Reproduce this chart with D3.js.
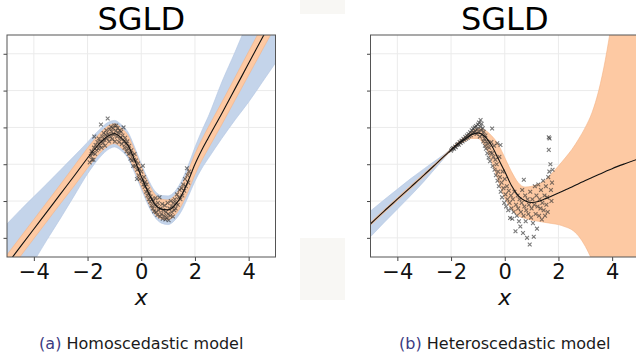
<!DOCTYPE html>
<html>
<head>
<meta charset="utf-8">
<script src="https://cdn.jsdelivr.net/npm/d3@7"></script>
<style>
  html, body { margin: 0; padding: 0; background: #fff; }
  svg { display: block; }
  text { font-family: "DejaVu Sans", sans-serif; }
</style>
</head>
<body>
<svg id="fig" width="636" height="352"></svg>
<script>
// ---- shared axis settings ----
const xTicks = [-4, -2, 0, 2, 4];
const yTicks = [-2, -1, 0, 1, 2, 3];
const xDomain = [-5, 5];
const yDomain = [-2.52, 3.51];

// ---- homoscedastic model (SGLD) ----
const homGrid = [-5, -4.5, -4, -3.5, -3, -2.5, -2, -1.75, -1.5, -1.25, -1, -0.75, -0.5, -0.25, 0, 0.25, 0.5, 0.75, 1, 1.25, 1.5, 1.75, 2, 2.25, 2.5, 3, 3.5, 4, 4.5, 5];
const homMean = [-2.72, -2.24, -1.76, -1.28, -0.80, -0.32, 0.17, 0.40, 0.60, 0.76, 0.83, 0.72, 0.52, 0.12, -0.33, -0.75, -1.08, -1.22, -1.24, -1.12, -0.85, -0.45, 0.0, 0.38, 0.72, 1.38, 2.06, 2.74, 3.42, 4.10];
const homAleaLo = [-2.98, -2.50, -2.02, -1.54, -1.06, -0.59, -0.10, 0.13, 0.33, 0.49, 0.56, 0.45, 0.25, -0.15, -0.60, -1.02, -1.35, -1.49, -1.51, -1.39, -1.12, -0.73, -0.28, 0.10, 0.43, 1.08, 1.75, 2.42, 3.09, 3.76];
const homAleaHi = [-2.46, -1.98, -1.50, -1.02, -0.54, -0.05, 0.44, 0.67, 0.87, 1.03, 1.10, 0.99, 0.79, 0.39, -0.06, -0.48, -0.81, -0.95, -0.97, -0.85, -0.58, -0.17, 0.28, 0.66, 1.01, 1.68, 2.37, 3.06, 3.75, 4.44];
const homTotalLo = [-3.85, -3.25, -2.64, -2.04, -1.46, -0.86, -0.26, 0.0, 0.22, 0.39, 0.47, 0.37, 0.17, -0.23, -0.67, -1.10, -1.43, -1.60, -1.64, -1.52, -1.27, -0.88, -0.46, -0.12, 0.16, 0.70, 1.21, 1.69, 2.22, 2.75];
const homTotalHi = [-1.62, -1.24, -0.88, -0.52, -0.15, 0.22, 0.60, 0.80, 0.98, 1.13, 1.19, 1.08, 0.88, 0.47, 0.01, -0.40, -0.72, -0.85, -0.86, -0.74, -0.45, -0.03, 0.46, 0.90, 1.30, 2.23, 3.06, 3.94, 4.87, 5.80];
const homPoints = [
  [-1.92, 0.05], [-1.88, 0.22], [-1.85, 0.35], [-1.83, 0.12], [-1.8, 0.3], [-1.78, 0.12], [-1.76, 0.45], [-1.75, 0.75],
  [-1.72, 0.28], [-1.7, 0.52], [-1.66, 0.38], [-1.63, 0.6], [-1.6, 0.42], [-1.58, 0.7], [-1.55, 0.5], [-1.52, 0.62],
  [-1.5, 1.08], [-1.48, 0.45], [-1.45, 0.75], [-1.42, 0.58], [-1.4, 0.85], [-1.37, 0.66], [-1.35, 0.5], [-1.32, 0.8],
  [-1.3, 0.92], [-1.28, 0.7], [-1.25, 1.24], [-1.23, 0.82], [-1.2, 0.62], [-1.18, 0.95], [-1.15, 0.75], [-1.13, 1.02],
  [-1.1, 0.88], [-1.08, 0.68], [-1.05, 0.98], [-1.03, 0.8], [-1.0, 1.05], [-0.98, 0.62], [-0.95, 0.9], [-0.93, 1.05],
  [-0.9, 0.75], [-0.88, 0.98], [-0.85, 0.85], [-0.83, 0.6], [-0.8, 0.92], [-0.78, 0.7], [-0.75, 0.88], [-0.72, 0.55],
  [-0.7, 0.78], [-0.66, 1.0], [-0.65, 0.62], [-0.62, 0.45], [-0.6, 0.72], [-0.57, 0.55], [-0.55, 0.35], [-0.52, 0.62],
  [-0.5, 0.42], [-0.47, 0.28], [-0.45, 0.5], [-0.42, 0.3], [-0.4, 0.15], [-0.37, 0.38], [-0.35, 0.1], [-0.32, 0.25],
  [-0.3, -0.05], [-0.27, 0.12], [-0.25, 0.28], [-0.22, -0.05], [-0.2, 0.1], [-0.16, -0.4], [-0.15, -0.15], [-0.12, 0.02],
  [-0.1, -0.3], [-0.07, -0.12], [-0.05, -0.4], [0.0, -0.2], [0.03, -0.45], [0.06, -0.04], [0.08, -0.55], [0.1, -0.35],
  [0.13, -0.62], [0.15, -0.48], [0.18, -0.75], [0.2, -0.55], [0.23, -0.85], [0.25, -0.68], [0.28, -0.95], [0.3, -0.78],
  [0.33, -1.02], [0.35, -0.88], [0.38, -1.12], [0.4, -0.95], [0.43, -1.2], [0.45, -1.0], [0.48, -1.28], [0.5, -1.1],
  [0.53, -0.92], [0.55, -1.3], [0.58, -1.15], [0.6, -1.38], [0.62, -1.05], [0.65, -1.25], [0.68, -0.9], [0.7, -1.42],
  [0.72, -1.2], [0.75, -1.35], [0.78, -1.08], [0.8, -1.48], [0.82, -1.25], [0.85, -1.4], [0.88, -1.12], [0.9, -1.5],
  [0.92, -1.3], [0.95, -1.45], [0.98, -1.05], [1.0, -1.35], [1.02, -1.52], [1.05, -1.2], [1.08, -1.4], [1.1, -1.0],
  [1.13, -1.3], [1.15, -1.15], [1.18, -1.42], [1.2, -1.05], [1.23, -1.25], [1.25, -0.95], [1.28, -1.2], [1.3, -1.05],
  [1.33, -0.82], [1.36, -1.1], [1.4, -0.9], [1.43, -0.7], [1.46, -0.95], [1.5, -0.65], [1.53, -0.85], [1.56, -0.55],
  [1.6, -0.72], [1.63, -0.4], [1.66, -0.6], [1.7, -0.11], [1.72, -0.3], [1.75, -0.5], [1.78, -0.2]
];

// ---- heteroscedastic model (SGLD) ----
const hetGrid = [-5, -4.5, -4, -3.5, -3, -2.5, -2, -1.75, -1.5, -1.25, -1, -0.75, -0.5, -0.25, 0, 0.25, 0.5, 0.75, 1, 1.25, 1.5, 1.75, 2, 2.25, 2.5, 2.75, 3, 3.25, 3.5, 3.75, 4, 4.5, 5];
const hetMean = [-1.62, -1.28, -0.95, -0.62, -0.29, 0.05, 0.39, 0.55, 0.68, 0.80, 0.85, 0.76, 0.52, 0.16, -0.20, -0.58, -0.85, -0.99, -1.04, -1.01, -0.94, -0.86, -0.78, -0.70, -0.62, -0.53, -0.44, -0.36, -0.28, -0.20, -0.12, 0.02, 0.15];
const hetAleaLo = [-1.66, -1.32, -0.99, -0.66, -0.33, 0.02, 0.36, 0.51, 0.62, 0.70, 0.70, 0.50, 0.10, -0.44, -0.92, -1.22, -1.40, -1.47, -1.52, -1.55, -1.58, -1.61, -1.64, -1.70, -1.78, -1.95, -2.23, -2.60, -3.00, -3.50, -4.10, -5.50, -7.00];
const hetAleaHi = [-1.58, -1.24, -0.91, -0.58, -0.25, 0.08, 0.42, 0.59, 0.74, 0.88, 0.97, 0.93, 0.78, 0.55, 0.18, -0.20, -0.50, -0.62, -0.60, -0.54, -0.44, -0.25, -0.05, 0.17, 0.40, 0.68, 1.00, 1.40, 2.00, 2.85, 3.95, 6.80, 10.5];
const hetTotalGrid = [-5, -4.5, -4, -3.5, -3, -2.5, -2, -1.75, -1.5];
const hetTotalLo = [-1.97, -1.59, -1.22, -0.85, -0.46, -0.04, 0.36, 0.51, 0.62];
const hetTotalHi = [-1.27, -0.97, -0.68, -0.39, -0.12, 0.14, 0.42, 0.59, 0.74];
const hetPoints = [
  [-2.0, 0.37], [-1.96, 0.41], [-1.92, 0.44], [-1.89, 0.42], [-1.85, 0.48], [-1.82, 0.46], [-1.78, 0.52], [-1.75, 0.55],
  [-1.71, 0.53], [-1.68, 0.6], [-1.64, 0.58], [-1.61, 0.64], [-1.57, 0.62], [-1.54, 0.69], [-1.5, 0.66], [-1.47, 0.74],
  [-1.44, 0.69], [-1.41, 0.78], [-1.38, 0.72], [-1.35, 0.82], [-1.32, 0.76], [-1.29, 0.87], [-1.26, 0.79], [-1.23, 0.92],
  [-1.2, 0.84], [-1.18, 0.97], [-1.15, 0.86], [-1.12, 1.0], [-1.1, 0.9], [-1.07, 1.04], [-1.05, 0.82], [-1.02, 0.96],
  [-1.0, 1.08], [-0.98, 0.88], [-0.96, 1.13], [-0.93, 0.75], [-0.91, 1.02], [-0.9, 1.2], [-0.88, 0.92], [-0.86, 1.1],
  [-0.84, 0.8], [-0.82, 0.98], [-0.8, 0.62], [-0.78, 0.88], [-0.76, 0.7], [-0.74, 0.5], [-0.72, 0.78], [-0.7, 0.42],
  [-0.68, 0.62], [-0.65, 0.3], [-0.63, 0.55], [-0.6, 0.18], [-0.58, 0.45], [-0.55, 0.08], [-0.53, 0.32], [-0.5, 0.6],
  [-0.47, 0.97], [-0.47, 0.3], [-0.45, -0.05], [-0.42, 0.2], [-0.4, 0.5], [-0.38, -0.15], [-0.35, 0.12], [-0.33, -0.3],
  [-0.3, 0.0], [-0.28, 0.57], [-0.27, -0.45], [-0.25, -0.2], [-0.22, -0.6], [-0.2, 0.2], [-0.18, -0.35], [-0.16, 0.52],
  [-0.15, -0.75], [-0.12, -0.5], [-0.1, -0.9], [-0.08, -0.2], [-0.05, -0.65], [-0.02, -1.05], [0.0, -0.4], [0.03, -0.82],
  [0.05, -1.15], [0.08, -0.6], [0.1, -0.95], [0.13, -1.25], [0.15, -0.72], [0.18, -1.05], [0.2, -1.46], [0.23, -0.85],
  [0.25, -1.2], [0.28, -1.48], [0.3, -0.95], [0.33, -1.3], [0.36, -0.75], [0.4, -1.82], [0.42, -1.1], [0.45, -1.4],
  [0.48, -0.85], [0.5, -1.2], [0.53, -1.55], [0.55, -0.95], [0.58, -1.69], [0.6, -1.3], [0.63, -1.05], [0.65, -0.7],
  [0.68, -1.87], [0.7, -1.4], [0.71, -0.42], [0.73, -1.15], [0.76, -0.85], [0.78, -1.55], [0.8, -1.25], [0.83, -2.0],
  [0.85, -0.95], [0.88, -1.35], [0.9, -1.1], [0.93, -2.18], [0.95, -0.75], [0.98, -1.45], [1.0, -1.2], [1.03, -0.95],
  [1.05, -1.6], [1.08, -1.97], [1.1, -1.1], [1.12, -0.6], [1.15, -1.35], [1.18, -0.85], [1.2, -1.75], [1.22, -1.15],
  [1.25, -0.55], [1.28, -1.4], [1.3, -0.95], [1.33, -1.2], [1.35, -0.7], [1.38, -1.5], [1.4, -1.05], [1.43, -0.45],
  [1.45, -1.25], [1.48, -0.85], [1.5, -1.4], [1.53, -0.6], [1.55, -1.1], [1.58, -0.9], [1.6, -1.3], [1.62, -0.35],
  [1.64, 0.73], [1.67, 0.7], [1.64, 0.39], [1.66, -0.2], [1.7, 0.0], [1.72, -0.7], [1.74, -1.0], [1.76, -0.5], [1.78, -0.15]
];

const titles = ["SGLD", "SGLD"];
const captionTags = ["(a)", "(b)"];
const captionTexts = ["Homoscedastic model", "Heteroscedastic model"];
const xLabel = "x";

// ---- drawing ----
const svg = d3.select("#fig");
const BLUE = "#c4d4ea", ORANGE = "#fdc9a3";

// faint sheet patches in the page gutter
svg.append("rect").attr("x", 300).attr("y", 0).attr("width", 45).attr("height", 14).attr("fill", "#f8f7f4");
svg.append("rect").attr("x", 300).attr("y", 238).attr("width", 45).attr("height", 62).attr("fill", "#f8f7f4");

const panels = [
  { left: 7, top: 35, width: 268.5, height: 222, grid: homGrid, mean: homMean,
    aleaLo: homAleaLo, aleaHi: homAleaHi, totGrid: homGrid, totLo: homTotalLo, totHi: homTotalHi, pts: homPoints },
  { left: 370.5, top: 35, width: 268.5, height: 222, grid: hetGrid, mean: hetMean,
    aleaLo: hetAleaLo, aleaHi: hetAleaHi, totGrid: hetTotalGrid, totLo: hetTotalLo, totHi: hetTotalHi, pts: hetPoints }
];

panels.forEach((p, i) => {
  const x = d3.scaleLinear().domain(xDomain).range([p.left, p.left + p.width]);
  const y = d3.scaleLinear().domain(yDomain).range([p.top + p.height, p.top]);
  const g = svg.append("g");

  const clipId = "clip" + i;
  svg.append("clipPath").attr("id", clipId).append("rect")
    .attr("x", p.left).attr("y", p.top).attr("width", p.width).attr("height", p.height);

  // grid
  g.append("g").selectAll("line").data(xTicks).join("line")
    .attr("x1", d => x(d)).attr("x2", d => x(d)).attr("y1", p.top).attr("y2", p.top + p.height)
    .attr("stroke", "#ebebeb").attr("stroke-width", 1);
  g.append("g").selectAll("line").data(yTicks).join("line")
    .attr("y1", d => y(d)).attr("y2", d => y(d)).attr("x1", p.left).attr("x2", p.left + p.width)
    .attr("stroke", "#ebebeb").attr("stroke-width", 1);

  const plot = g.append("g").attr("clip-path", `url(#${clipId})`);
  const curve = d3.curveMonotoneX;

  // total (epistemic + aleatoric) band
  const totArea = d3.area().curve(curve)
    .x((d, k) => x(p.totGrid[k])).y0((d, k) => y(p.totLo[k])).y1((d, k) => y(p.totHi[k]));
  plot.append("path").datum(p.totGrid).attr("d", totArea)
    .attr("fill", BLUE).attr("stroke", "#b3c6e2").attr("stroke-width", 0.6);

  // aleatoric band
  const aleaArea = d3.area().curve(curve)
    .x((d, k) => x(p.grid[k])).y0((d, k) => y(p.aleaLo[k])).y1((d, k) => y(p.aleaHi[k]));
  plot.append("path").datum(p.grid).attr("d", aleaArea)
    .attr("fill", ORANGE).attr("stroke", "#f3b486").attr("stroke-width", 0.6);

  // observations
  const s = 1.9;
  plot.append("g").selectAll("path").data(p.pts).join("path")
    .attr("d", d => {
      const cx = x(d[0]), cy = y(d[1]);
      return `M${cx - s},${cy - s}L${cx + s},${cy + s}M${cx - s},${cy + s}L${cx + s},${cy - s}`;
    })
    .attr("stroke", "#333").attr("stroke-opacity", 0.65).attr("stroke-width", 1.1).attr("fill", "none");

  // predictive mean
  const line = d3.line().curve(curve).x((d, k) => x(p.grid[k])).y((d, k) => y(p.mean[k]));
  plot.append("path").datum(p.grid).attr("d", line)
    .attr("fill", "none").attr("stroke", "#111").attr("stroke-width", 1.1);

  // axes
  const xAxis = d3.axisBottom(x).tickValues(xTicks).tickSize(4).tickPadding(3)
    .tickFormat(d3.format("d"));
  const gx = g.append("g").attr("transform", `translate(0,${p.top + p.height})`).call(xAxis);
  gx.select(".domain").remove();
  gx.selectAll(".tick line").attr("stroke", "#444");
  gx.selectAll(".tick text").attr("font-size", 21).attr("font-family", "DejaVu Sans").attr("fill", "#111");

  const yAxis = d3.axisLeft(y).tickValues(yTicks).tickSize(3.5).tickFormat("");
  const gy = g.append("g").attr("transform", `translate(${p.left},0)`).call(yAxis);
  gy.select(".domain").remove();
  gy.selectAll(".tick line").attr("stroke", "#444");

  // frame
  g.append("rect").attr("x", p.left).attr("y", p.top).attr("width", p.width).attr("height", p.height)
    .attr("fill", "none").attr("stroke", "#555").attr("stroke-width", 1);

  const cx = x(0);
  g.append("text").attr("x", cx).attr("y", 30).attr("text-anchor", "middle")
    .attr("font-size", 32).attr("fill", "#000").text(titles[i]);

  g.append("text").attr("x", cx).attr("y", 305).attr("text-anchor", "middle")
    .attr("font-size", 22).attr("font-style", "italic").attr("fill", "#111").text(xLabel);

  const cap = g.append("text").attr("x", cx).attr("y", 349).attr("text-anchor", "middle")
    .attr("font-size", 16).attr("fill", "#1a1a1a");
  cap.append("tspan").attr("fill", "#3b3b82").text(captionTags[i]);
  cap.append("tspan").text(" " + captionTexts[i]);
});
</script>
</body>
</html>
